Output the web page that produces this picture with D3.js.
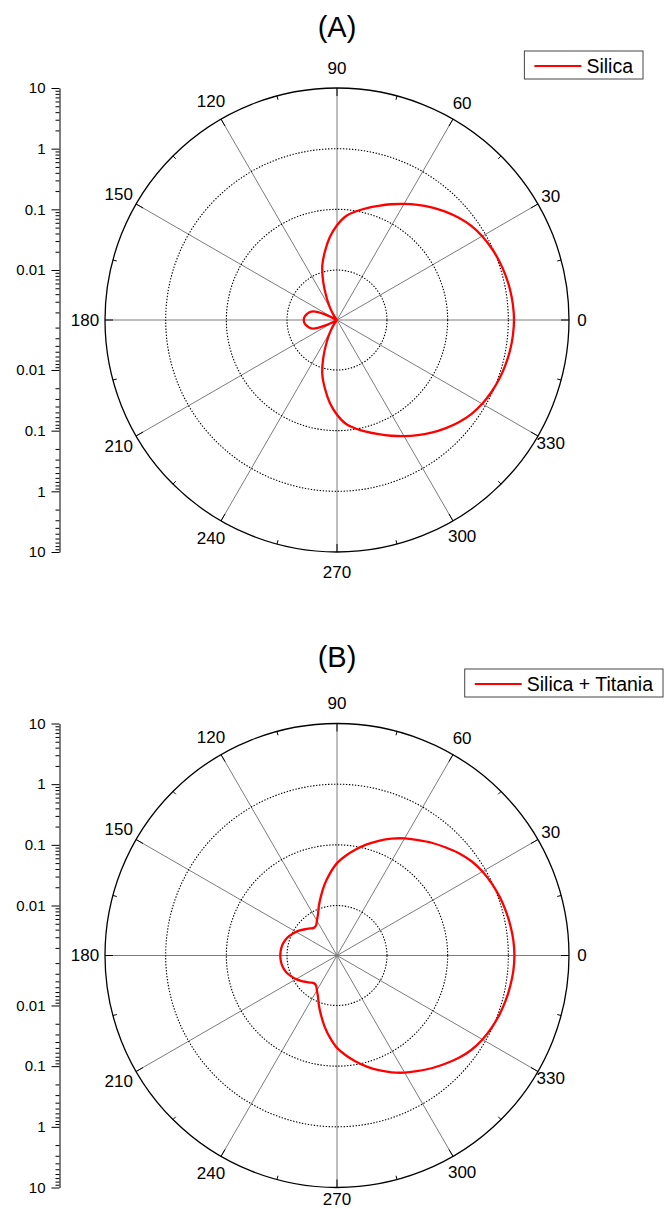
<!DOCTYPE html>
<html>
<head>
<meta charset="utf-8">
<script src="https://cdn.jsdelivr.net/npm/d3@7"></script>
<style>
  html, body { margin: 0; padding: 0; background: #fff; }
  svg { display: block; font-family: "Liberation Sans", Arial, Helvetica, sans-serif; }
</style>
</head>
<body>
<svg id="chart" width="669" height="1209"></svg>
<script>
// angles in degrees (counter-clockwise from 0)
const angles = [0,5,10,15,20,25,30,35,40,45,50,55,60,65,70,75,80,85,90,95,100,105,110,115,120,125,130,135,140,145,150,155,160,165,170,175,
  180,185,190,195,200,205,210,215,220,225,230,235,240,245,250,255,260,265,270,275,280,285,290,295,300,305,310,315,320,325,330,335,340,345,350,355]

// (A) Silica
const silica = [1.24,1.22,1.18,1.12,1.05,0.966,0.871,0.757,0.626,0.502,0.397,0.312,0.244,0.191,0.151,0.122,0.099,0.079,0.0546,0.035,0.021,0.0129,0.0069,0.0038,0.0025,0.0018,0.0014,0.0012,0.0011,0.0012,0.0014,0.0025,0.0039,0.0045,0.0049,0.0052,
  0.0053,0.0052,0.0049,0.0045,0.0039,0.0025,0.0014,0.0012,0.0011,0.0012,0.0014,0.0018,0.0025,0.0038,0.0069,0.0129,0.021,0.035,0.0546,0.079,0.099,0.122,0.151,0.191,0.244,0.312,0.397,0.502,0.626,0.757,0.871,0.966,1.05,1.12,1.18,1.22]

// (B) Silica + Titania
const silicaTitania = [1.26,1.24,1.19,1.13,1.06,0.975,0.88,0.765,0.63,0.50,0.40,0.315,0.254,0.200,0.154,0.118,0.089,0.067,0.050,0.034,0.023,0.0156,0.0112,0.0083,0.0069,0.0060,0.0059,0.0064,0.0071,0.0080,0.0090,0.0100,0.0111,0.0119,0.0125,0.0128,
  0.0129,0.0128,0.0125,0.0119,0.0111,0.0100,0.0090,0.0080,0.0071,0.0064,0.0059,0.0060,0.0069,0.0083,0.0112,0.0156,0.023,0.034,0.050,0.067,0.089,0.118,0.154,0.200,0.254,0.315,0.40,0.50,0.63,0.765,0.88,0.975,1.06,1.13,1.19,1.24]

const radialDomain = [0.0015, 10]
const ringValues = [0.01, 0.1, 1]
const radialTicks = [0.01, 0.1, 1, 10]
const spokeAngles = [0,30,60,90,120,150,180,210,240,270,300,330]
const minorAngles = [15,45,75,105,135,165,195,225,255,285,315,345]

const svg = d3.select("#chart")
const W = 669, H = 1209
const cx = 337, R = 232
const rScale = d3.scaleLog().domain(radialDomain).range([0, R]).clamp(true)
const rad = d => d * Math.PI / 180

function drawPanel(cy, title, titleY, name, values, legendRight, legendTop) {
  let g = svg.append("g")

  g.append("text")
    .text(title)
    .attr("x", cx).attr("y", titleY)
    .attr("text-anchor", "middle")
    .style("font-size", "29px")

  let polar = g.append("g").attr("transform", `translate(${cx},${cy})`)

  // spokes
  polar.selectAll(".spoke").data(spokeAngles).join("line")
    .attr("x1", 0).attr("y1", 0)
    .attr("x2", d => R * Math.cos(rad(d)))
    .attr("y2", d => -R * Math.sin(rad(d)))
    .attr("stroke", "#7c7c7c").attr("stroke-width", 1)

  // dotted rings
  polar.selectAll(".ring").data(ringValues).join("circle")
    .attr("r", d => rScale(d))
    .attr("fill", "none")
    .attr("stroke", "#000").attr("stroke-width", 1.1)
    .attr("stroke-dasharray", "1.4,1.6")

  // outer circle
  polar.append("circle").attr("r", R)
    .attr("fill", "none").attr("stroke", "#000").attr("stroke-width", 1.3)

  // angular ticks (inward)
  polar.selectAll(".tmaj").data(spokeAngles).join("line")
    .attr("x1", d => R * Math.cos(rad(d))).attr("y1", d => -R * Math.sin(rad(d)))
    .attr("x2", d => (R - 8) * Math.cos(rad(d))).attr("y2", d => -(R - 8) * Math.sin(rad(d)))
    .attr("stroke", "#000").attr("stroke-width", 1)
  polar.selectAll(".tmin").data(minorAngles).join("line")
    .attr("x1", d => R * Math.cos(rad(d))).attr("y1", d => -R * Math.sin(rad(d)))
    .attr("x2", d => (R - 4) * Math.cos(rad(d))).attr("y2", d => -(R - 4) * Math.sin(rad(d)))
    .attr("stroke", "#000").attr("stroke-width", 1)

  // angle labels, kept inside the picture
  let labDist = d => 252 - 7 * Math.max(Math.cos(rad(d)), 0) ** 2
  polar.selectAll(".alab").data(spokeAngles).join("text")
    .text(d => d)
    .attr("x", d => labDist(d) * Math.cos(rad(d)))
    .attr("y", d => Math.min(-labDist(d) * Math.sin(rad(d)), H - 10 - cy))
    .attr("text-anchor", "middle")
    .attr("dominant-baseline", "central")
    .style("font-size", "17px")

  // data curve
  let pts = angles.map((a, i) => [a, values[i]])
  let line = d3.lineRadial()
    .angle(d => rad(90 - d[0]))
    .radius(d => rScale(d[1]))
    .curve(d3.curveCatmullRomClosed.alpha(0.5))
  polar.append("path")
    .attr("d", line(pts))
    .attr("fill", "none")
    .attr("stroke", "#ff0000").attr("stroke-width", 2.3)

  // left radial axis (mirrored log scale)
  let axisX = 59.5
  let minorVals = []
  ;[0.001, 0.01, 0.1, 1].forEach(dec => {
    for (let k = 2; k <= 9; k++) {
      let v = k * dec
      if (v > radialDomain[0] && v < radialDomain[1]) minorVals.push(v)
    }
  })
  ;[[cy, cy - R], [cy, cy + R]].forEach(range => {
    let y = d3.scaleLog().domain(radialDomain).range(range)
    let ax = g.append("g").attr("transform", `translate(${axisX},0)`)
      .call(d3.axisLeft(y).tickValues(radialTicks).tickSize(8).tickSizeOuter(0).tickPadding(6)
        .tickFormat(d => String(d)))
    ax.selectAll("text").style("font-size", "15px").attr("fill", "#000")
    ax.selectAll("line, path").attr("stroke", "#000")
    let mn = g.append("g").attr("transform", `translate(${axisX},0)`)
      .call(d3.axisLeft(y).tickValues(minorVals).tickSize(4).tickFormat(""))
    mn.select(".domain").remove()
    mn.selectAll("line").attr("stroke", "#000")
  })

  // legend
  let lg = g.append("g")
  let txt = lg.append("text").text(name)
    .style("font-size", "19.5px")
  let tw = txt.node().getComputedTextLength()
  let bw = 10 + 47 + 5 + tw + 10
  let bx = legendRight - bw
  lg.insert("rect", "text")
    .attr("x", bx).attr("y", legendTop)
    .attr("width", bw).attr("height", 28)
    .attr("fill", "#fff").attr("stroke", "#444").attr("stroke-width", 1)
  lg.append("line")
    .attr("x1", bx + 10).attr("x2", bx + 57)
    .attr("y1", legendTop + 15).attr("y2", legendTop + 15)
    .attr("stroke", "#ff0000").attr("stroke-width", 2)
  txt.attr("x", bx + 62).attr("y", legendTop + 22)
}

drawPanel(320, "(A)", 37, "Silica", silica, 643, 51)
drawPanel(955.5, "(B)", 667, "Silica + Titania", silicaTitania, 663, 669)
</script>
</body>
</html>
